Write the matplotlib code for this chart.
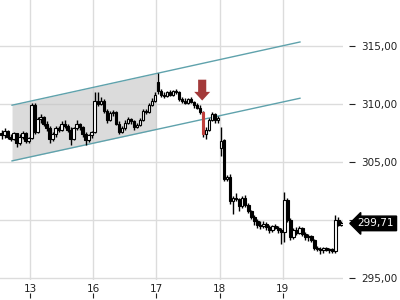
import numpy as np
import matplotlib
matplotlib.use("Agg")
import matplotlib.pyplot as plt
from matplotlib.patches import FancyArrow
from matplotlib.ticker import FuncFormatter
import matplotlib.transforms as mtransforms

# OHLC per bar (about 21 bars per trading day)
opens = [307.5, 307.3, 307.7, 307.2, 307.0, 307.5, 306.6, 307.2, 307.5, 306.8,
         307.1, 309.9, 307.6, 308.7, 308.9, 308.3, 307.9, 307.0, 307.4, 307.9,
         307.8, 308.3, 308.1, 307.8, 307.0, 307.9, 308.3, 308.0, 307.4, 306.9,
         307.3, 307.6, 310.3, 310.0, 310.3, 309.4, 308.6, 309.2, 309.3, 308.3,
         307.6, 307.9, 308.4, 308.7, 308.5, 308.0, 308.2, 308.6, 309.4, 309.3,
         309.9, 310.3, 311.9, 311.1, 310.8, 310.7, 311.0, 310.8, 311.1, 311.0,
         310.4, 310.3, 310.1, 310.4, 310.2, 309.9, 309.7, 309.3, 307.4, 307.8,
         308.6, 309.1, 308.6, 306.2, 306.9, 303.5, 303.7, 301.6, 301.9, 301.8,
         301.2, 301.9, 301.3, 300.8, 300.3, 299.9, 299.6, 299.5, 299.7, 299.4,
         299.1, 299.5, 299.3, 299.1, 299.0, 301.7, 300.0, 298.5, 299.1, 298.9,
         299.3, 298.8, 298.5, 298.6, 298.3, 297.6, 297.5, 297.4, 297.6, 297.4,
         297.5, 297.3, 300.0, 299.6]
highs = [307.8, 307.9, 307.8, 307.4, 307.6, 307.5, 307.4, 307.7, 307.6, 307.2,
         310.1, 310.1, 308.9, 309.1, 309.0, 308.5, 308.1, 307.6, 308.1, 308.1,
         308.5, 308.6, 308.3, 308.0, 308.0, 308.6, 308.4, 308.1, 307.6, 307.4,
         307.7, 311.0, 311.0, 310.6, 310.4, 309.6, 309.4, 309.5, 309.4, 308.5,
         308.1, 308.6, 308.9, 308.8, 308.6, 308.4, 308.8, 309.6, 309.6, 310.1,
         310.5, 311.0, 312.7, 311.3, 311.0, 311.1, 311.2, 311.2, 311.3, 311.1,
         310.6, 310.5, 310.5, 310.6, 310.3, 310.1, 309.9, 309.4, 308.0, 308.8,
         309.3, 309.2, 309.0, 308.0, 307.0, 303.9, 304.0, 302.1, 302.3, 301.9,
         302.1, 302.2, 301.5, 300.9, 300.4, 300.1, 299.9, 299.9, 299.8, 299.6,
         299.6, 299.7, 299.5, 299.3, 302.4, 301.9, 300.2, 299.3, 299.4, 299.5,
         299.4, 299.0, 298.8, 298.7, 298.4, 297.8, 297.7, 297.7, 297.7, 297.6,
         297.6, 300.4, 300.3, 299.9]
lows = [307.0, 307.1, 307.0, 306.8, 306.9, 306.3, 306.5, 307.0, 306.6, 306.6,
        307.0, 307.4, 307.5, 308.4, 308.1, 307.7, 306.6, 306.8, 307.2, 307.6,
        307.7, 307.9, 307.6, 306.5, 306.9, 307.8, 307.8, 307.2, 306.5, 306.7,
        307.1, 307.5, 309.8, 309.9, 309.2, 308.4, 308.5, 309.0, 308.2, 307.4,
        307.5, 307.8, 308.3, 308.3, 307.8, 307.9, 308.1, 308.5, 309.1, 309.2,
        309.8, 310.2, 310.9, 310.6, 310.5, 310.6, 310.7, 310.7, 310.9, 310.3,
        310.1, 310.0, 310.0, 310.1, 309.7, 309.6, 309.1, 307.2, 307.0, 307.7,
        308.5, 308.4, 308.4, 305.5, 303.4, 303.4, 301.4, 300.5, 301.6, 300.8,
        301.0, 301.1, 300.6, 300.1, 299.6, 299.3, 299.2, 299.3, 299.1, 298.9,
        299.0, 299.2, 298.9, 297.9, 298.1, 299.8, 298.3, 298.4, 298.7, 298.8,
        298.6, 298.3, 298.2, 298.1, 297.4, 297.3, 297.1, 297.2, 297.3, 297.2,
        297.2, 297.2, 299.5, 299.5]
closes = [307.3, 307.7, 307.2, 307.0, 307.5, 306.6, 307.2, 307.5, 306.8, 307.1,
          309.9, 307.6, 308.7, 308.9, 308.3, 307.9, 307.0, 307.4, 307.9, 307.8,
          308.3, 308.1, 307.8, 307.0, 307.9, 308.3, 308.0, 307.4, 306.9, 307.3,
          307.6, 310.3, 310.0, 310.3, 309.4, 308.6, 309.2, 309.3, 308.3, 307.6,
          307.9, 308.4, 308.7, 308.5, 308.0, 308.2, 308.6, 309.4, 309.3, 309.9,
          310.3, 310.8, 311.1, 310.8, 310.7, 311.0, 310.8, 311.1, 311.0, 310.4,
          310.3, 310.1, 310.4, 310.2, 309.9, 309.7, 309.3, 307.4, 307.8, 308.6,
          309.1, 308.6, 308.8, 306.8, 303.5, 303.7, 301.6, 301.9, 301.8, 301.2,
          301.9, 301.3, 300.8, 300.3, 299.9, 299.6, 299.5, 299.7, 299.4, 299.1,
          299.5, 299.3, 299.1, 299.0, 301.7, 300.0, 298.5, 299.1, 298.9, 299.3,
          298.8, 298.5, 298.6, 298.3, 297.6, 297.5, 297.4, 297.6, 297.4, 297.5,
          297.3, 300.0, 299.6, 299.71]

# day labels and the bar where each day starts
day_labels = ["13", "16", "17", "18", "19"]
day_starts = [9.5, 30.5, 51.5, 72.5, 93.5]
y_ticks = [295, 300, 305, 310, 315]

# trend channel (bar index, price)
channel_x = [3.5, 99.2]
channel_upper = [309.9, 315.35]
channel_lower = [305.1, 310.5]
shade_end = 51.5

# signal
signal_bar = 67
arrow_top = 312.1
arrow_tip = 310.3
last_price = closes[-1]


def price_fmt(v):
    return f"{v:.2f}".replace(".", ",")


fig = plt.figure(figsize=(4, 3), dpi=100)
ax = fig.add_axes([0, 20 / 300, 343 / 400, 280 / 300])

n = len(closes)
x = np.arange(n)
o = np.array(opens)
c = np.array(closes)

# channel shading + lines
xs = [channel_x[0], shade_end]
ax.fill_between(xs, np.interp(xs, channel_x, channel_lower),
                np.interp(xs, channel_x, channel_upper),
                color="#c4c4c4", alpha=0.6, lw=0, zorder=1)
ax.plot(channel_x, channel_upper, color="#5fa2ac", lw=1, zorder=2)
ax.plot(channel_x, channel_lower, color="#5fa2ac", lw=1, zorder=2)

# candles
ax.vlines(x, lows, highs, color="black", lw=1, zorder=3)
face = ["white" if cc >= oo else "black" for oo, cc in zip(o, c)]
edge = ["black"] * n
face[signal_bar] = "#c0403c"
edge[signal_bar] = "#c0403c"
ax.bar(x, c - o, bottom=o, width=0.85, color=face, edgecolor=edge,
       linewidth=0.8, zorder=4)

# signal arrow
ax.add_patch(FancyArrow(signal_bar - 0.3, arrow_top, 0, arrow_tip - arrow_top,
                        width=2.7, head_width=5.3, head_length=0.75,
                        length_includes_head=True, color="#a33a3a", lw=0,
                        zorder=5))

ax.set_xlim(-0.5, n - 0.5)
ax.set_ylim(294.83, 318.97)

ax.set_xticks(day_starts)
ax.set_xticklabels(day_labels)
ax.set_yticks(y_ticks)
# the price tag covers the label next to it
ax.yaxis.set_major_formatter(FuncFormatter(
    lambda v, p: "" if abs(v - last_price) < 1.5 else price_fmt(v)))
ax.yaxis.tick_right()
ax.spines["right"].set_position(("outward", 4))
for s in ax.spines.values():
    s.set_visible(False)
ax.tick_params(axis="x", length=0, pad=3, labelsize=7.5, labelcolor="#222222")
ax.tick_params(axis="y", length=4, width=0.8, pad=5, labelsize=7.5,
               labelcolor="#222222", color="#222222")
ax.grid(color="#dcdcdc", lw=1)
ax.set_axisbelow(True)

# little tick marks under the day labels
sec = ax.secondary_xaxis(-0.047)
sec.set_xticks(day_starts)
sec.tick_params(length=3.5, width=0.8, labelbottom=False, color="#222222")
sec.spines["bottom"].set_visible(False)

# last price tag
trans = mtransforms.blended_transform_factory(ax.transAxes, ax.transData)
ax.text(1.043, last_price, price_fmt(last_price), transform=trans,
        color="white", fontsize=7.5, va="center", ha="left", clip_on=False,
        bbox=dict(boxstyle="larrow,pad=0.22", fc="black", ec="black"))

fig.savefig("out.png", dpi=100)
